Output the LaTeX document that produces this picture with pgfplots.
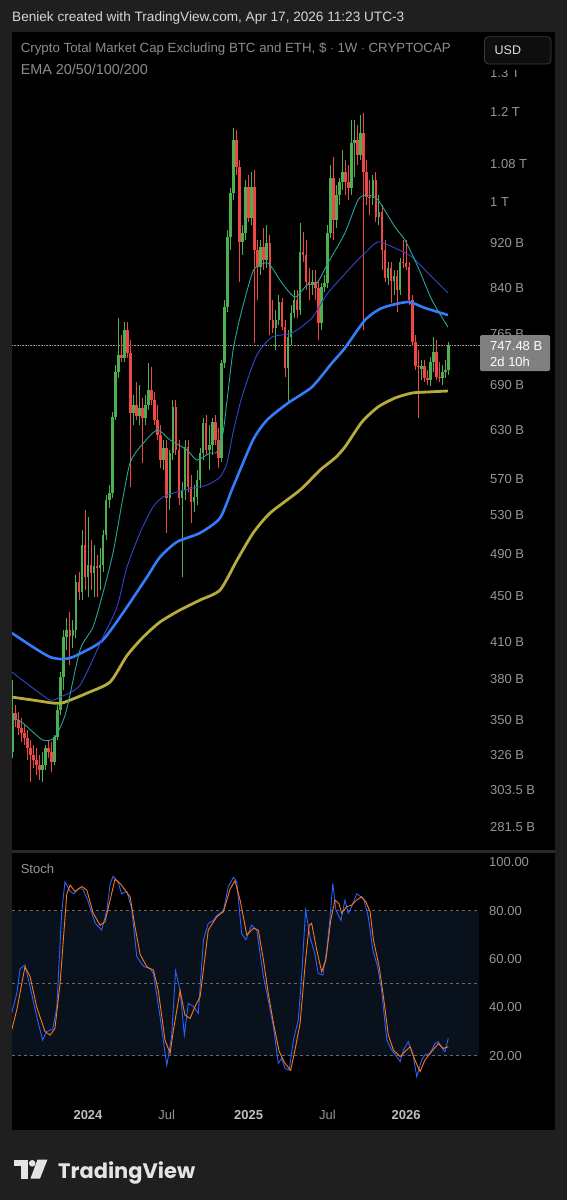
\documentclass[border=0pt]{standalone}
\usepackage{fontspec}
\setmainfont{Liberation Sans}
\newfontfamily\tvfont{Poppins}
\usepackage{graphicx}
\usepackage{pgfplots}
\usepackage{pgfplotstable}
\pgfplotsset{compat=1.18}
\definecolor{outerbg}{RGB}{31,31,31}
\definecolor{cgreen}{RGB}{76,175,80}
\definecolor{cred}{RGB}{239,70,70}
\definecolor{emaA}{RGB}{38,166,154}
\definecolor{emaB}{RGB}{52,70,205}
\definecolor{emaC}{RGB}{52,124,250}
\definecolor{emaD}{RGB}{181,172,58}
\definecolor{kcol}{RGB}{41,98,255}
\definecolor{dcol}{RGB}{255,120,20}
\definecolor{axgray}{RGB}{150,150,150}
\definecolor{leggray}{RGB}{140,140,140}
\definecolor{headgray}{RGB}{214,214,214}
\definecolor{yeargray}{RGB}{190,190,190}
\definecolor{bandc}{RGB}{9,17,29}
\definecolor{dashgray}{RGB}{100,104,112}
\definecolor{sepgray}{RGB}{42,42,42}
\definecolor{btnfill}{RGB}{14,14,14}
\definecolor{btndraw}{RGB}{58,58,58}
\definecolor{btntext}{RGB}{225,225,225}
\definecolor{pricebox}{RGB}{128,128,128}
\definecolor{logocol}{RGB}{228,228,228}
\newcommand\lab{\fontsize{13}{15}\selectfont}

\pgfplotstableread{
i o h l c
-25 327.8 379.3 323.8 354.7
-24 354.7 360.5 344.7 349.7
-23 349.7 355.5 339.2 344.0
-22 344.0 351.1 334.4 340.6
-21 340.6 346.1 332.4 337.1
-20 337.1 342.7 322.5 330.3
-19 330.3 335.8 308.4 325.8
-18 325.8 332.4 317.3 322.5
-17 322.5 330.3 312.8 319.2
-16 319.2 325.8 309.7 316.0
-15 316.0 327.8 308.4 319.2
-14 319.2 332.4 316.0 330.3
-13 330.3 335.8 323.8 327.8
-12 327.8 334.4 314.7 321.2
-11 321.2 339.2 319.2 337.8
-10 337.8 360.5 335.8 356.9
-9 356.9 385.5 353.3 381.6
-8 381.6 419.8 371.7 413.8
-7 413.8 430.1 403.1 419.8
-6 419.8 435.4 391.0 414.7
-5 414.7 428.4 404.7 419.8
-4 419.8 469.3 413.0 462.7
-3 462.7 472.2 446.1 453.5
-2 453.5 514.2 446.1 498.8
-1 498.8 535.5 455.3 467.4
0 467.4 527.9 448.8 478.9
1 478.9 503.9 455.3 471.2
2 471.2 498.8 448.8 477.9
3 477.9 488.7 448.8 475.9
4 475.9 495.7 455.3 478.9
5 478.9 514.2 472.2 509.0
6 509.0 552.0 503.9 546.5
7 546.5 563.3 537.6 554.3
8 554.3 653.2 548.6 646.6
9 646.6 718.5 642.7 708.4
10 708.4 790.4 699.7 733.3
11 733.3 763.6 723.0 728.8
12 728.8 784.0 723.0 771.4
13 771.4 784.0 728.8 736.3
14 736.3 755.9 561.0 651.9
15 651.9 676.2 636.2 662.5
16 662.5 694.2 642.7 647.9
17 647.9 689.9 636.2 658.4
18 658.4 672.0 589.0 645.2
19 645.2 676.2 636.2 662.5
20 662.5 721.5 655.9 683.1
21 683.1 715.6 662.5 669.3
22 669.3 680.3 636.2 642.7
23 642.7 662.5 617.2 623.4
24 623.4 636.2 583.0 592.6
25 592.6 617.2 580.7 607.2
26 607.2 617.2 511.1 548.6
27 548.6 604.8 535.5 601.1
28 601.1 669.3 592.6 659.8
29 659.8 669.3 598.7 604.8
30 604.8 617.2 541.0 548.6
31 548.6 566.8 467.4 557.7
32 557.7 617.2 546.5 608.4
33 608.4 617.2 555.4 561.0
34 561.0 574.8 521.5 544.3
35 544.3 563.3 533.3 549.8
36 549.8 580.7 541.0 569.1
37 569.1 607.2 559.9 601.1
38 601.1 645.2 592.6 638.8
39 638.8 649.2 598.7 604.8
40 604.8 636.2 580.7 610.9
41 610.9 645.2 598.7 640.1
42 640.1 649.2 610.9 617.2
43 617.2 632.3 583.0 595.0
44 595.0 725.9 590.2 721.5
45 721.5 819.8 714.1 808.2
46 808.2 944.9 800.1 931.5
47 931.5 1028.8 907.4 1018.6
48 1018.6 1161.9 1004.2 1134.2
49 1134.2 1157.4 1056.4 1073.6
50 1073.6 1089.1 850.3 922.1
51 922.1 954.5 898.2 939.1
52 939.1 1045.8 925.9 1030.9
53 1030.9 1056.4 960.4 968.0
54 968.0 1062.9 954.5 1030.9
55 1030.9 1067.2 751.3 907.4
56 907.4 925.9 819.8 876.5
57 876.5 925.9 862.5 912.7
58 912.7 948.6 871.3 889.1
59 889.1 954.5 874.7 920.3
60 920.3 935.3 763.6 787.2
61 787.2 819.8 766.7 774.4
62 774.4 803.4 740.8 787.2
63 787.2 828.1 779.2 816.5
64 816.5 823.0 771.4 776.0
65 776.0 787.2 701.2 714.1
66 714.1 771.4 665.2 760.4
67 760.4 811.5 748.2 798.5
68 798.5 836.6 790.4 819.8
69 819.8 836.6 790.4 803.4
70 803.4 958.4 795.2 903.7
71 903.7 941.1 885.5 898.2
72 898.2 925.9 836.6 850.3
73 850.3 874.7 819.8 845.1
74 845.1 871.3 828.1 850.3
75 850.3 871.3 819.8 839.9
76 839.9 853.8 755.9 782.4
77 782.4 848.6 771.4 841.7
78 841.7 862.5 833.2 848.6
79 848.6 954.5 839.9 939.1
80 939.1 1078.0 929.6 1049.9
81 1049.9 1095.6 925.9 964.3
82 964.3 1035.2 948.6 1014.4
83 1014.4 1049.9 994.0 1041.6
84 1041.6 1111.4 1024.8 1062.9
85 1062.9 1089.1 1014.4 1041.6
86 1041.6 1078.0 1004.2 1028.8
87 1028.8 1181.1 1014.4 1127.3
88 1127.3 1181.1 1052.0 1134.2
89 1134.2 1169.1 1078.0 1100.1
90 1100.1 1193.1 1089.1 1150.4
91 1150.4 1198.0 771.4 1062.9
92 1062.9 1089.1 994.0 1010.2
93 1010.2 1045.8 974.0 1008.2
94 1008.2 1056.4 994.0 1045.8
95 1045.8 1062.9 960.4 970.0
96 970.0 1014.4 954.5 980.0
97 980.0 994.0 871.3 907.4
98 907.4 925.9 850.3 857.1
99 857.1 885.5 845.1 874.7
100 874.7 885.5 814.8 852.1
101 852.1 871.3 828.1 860.7
102 860.7 871.3 800.1 836.6
103 836.6 892.7 828.1 885.5
104 885.5 925.9 874.7 883.7
105 883.7 925.9 871.3 876.5
106 876.5 885.5 811.5 819.8
107 819.8 828.1 748.2 752.8
108 752.8 763.6 711.3 717.1
109 717.1 740.8 645.2 715.6
110 713.0 725.9 697.0 717.1
111 717.1 725.9 694.2 699.7
112 699.7 711.3 689.9 697.0
113 697.0 730.3 688.5 723.0
114 723.0 760.4 708.4 737.8
115 737.8 755.9 697.0 701.2
116 701.2 723.0 694.2 699.7
117 699.7 718.5 689.9 708.4
118 708.4 725.9 699.7 711.3
119 711.3 752.8 704.1 747.48
}\candles
\pgfplotstablegetrowsof{\candles}
\pgfmathtruncatemacro\lastrow{\pgfplotsretval-1}

\begin{document}
\begin{tikzpicture}
\useasboundingbox (0,0) rectangle (567pt,-1200pt);
\fill[outerbg] (0,0) rectangle (567pt,-1200pt);
\fill[black] (12pt,-32.3pt) rectangle (555pt,-1130pt);

% ---------------- main price panel
\begin{axis}[
  at={(12pt,-850pt)}, anchor=south west,
  width=468pt, height=815pt, scale only axis,
  xmin=-25.08, xmax=129.37,
  ymode=log, ymin=268.7, ymax=1403.4,
  axis line style={draw=none},
  xtick=\empty,
  ytick={281.5,303.5,326,350,380,410,450,490,530,570,630,690,765,840,920,1000,1080,1200,1300},
  yticklabels={281.5 B,303.5 B,326 B,350 B,380 B,410 B,450 B,490 B,530 B,570 B,630 B,690 B,765 B,840 B,920 B,1 T,1.08 T,1.2 T,1.3 T},
  yticklabel pos=right,
  major tick length=0pt,
  yticklabel style={anchor=west, inner sep=0pt, xshift=10pt, font=\lab, text=axgray},
]
\addplot[axgray, densely dotted, line width=0.6pt] coordinates {(-25.08,747.48) (129.37,747.48)};

\pgfplotsforeachungrouped \r in {0,...,\lastrow}{%
  \pgfplotstablegetelem{\r}{i}\of\candles \let\cI\pgfplotsretval
  \pgfplotstablegetelem{\r}{o}\of\candles \let\cO\pgfplotsretval
  \pgfplotstablegetelem{\r}{h}\of\candles \let\cH\pgfplotsretval
  \pgfplotstablegetelem{\r}{l}\of\candles \let\cL\pgfplotsretval
  \pgfplotstablegetelem{\r}{c}\of\candles \let\cC\pgfplotsretval
  \ifdim\cC pt<\cO pt \def\ccol{cred}\else\def\ccol{cgreen}\fi
  \edef\temp{\noexpand\addplot[\ccol, line width=0.8pt, forget plot] coordinates {(\cI,\cL) (\cI,\cH)};
    \noexpand\addplot[\ccol, line width=2.6pt, forget plot] coordinates {(\cI,\cO) (\cI,\cC)};}%
  \temp
}

% EMA 200
\addplot[emaD, line width=2.8pt, smooth, tension=0.4] coordinates {
(-25.1,366.4) (-18.2,364.2) (-11.6,362.0) (-8.6,362.0) (-5.0,365.0) (-0.3,369.4) (7.3,377.8) (12.87,398.6) (18.2,413.8) (23.8,426.7) (30.4,437.2) (37.0,446.1) (43.6,455.3) (49.2,483.8) (54.5,511.1) (60.1,532.2) (70.0,557.7) (76.6,580.7) (81.5,595.0) (84.8,608.5) (90.4,640.1) (95.7,659.9) (101.3,672.0) (106.9,678.9) (112.2,680.3) (118.8,681.7)};
% EMA 100
\addplot[emaC, line width=2.6pt, smooth, tension=0.4] coordinates {
(-25.1,417.2) (-18.2,405.6) (-12.5,397.4) (-8.6,395.8) (-5.0,397.4) (1.65,405.6) (4.95,411.4) (8.25,422.3) (12.87,439.8) (19.47,467.4) (23.76,486.7) (29.37,501.9) (36.96,511.1) (43.56,526.8) (47.85,561.0) (54.46,617.2) (59.08,642.7) (66.0,665.2) (73.9,687.2) (80.5,721.5) (84.8,743.8) (91.4,787.2) (97.0,806.6) (105.6,816.5) (111.2,806.6) (118.8,795.2)};
% EMA 50
\addplot[emaB, line width=0.9pt, smooth, tension=0.4] coordinates {
(-25.1,385.5) (-18.2,373.2) (-12.5,364.2) (-9.2,366.4) (-2.6,375.5) (4.95,413.8) (9.57,439.8) (12.87,476.9) (17.16,511.1) (21.45,538.7) (24.75,549.8) (29.37,555.4) (34.65,559.9) (39.27,563.3) (43.56,572.4) (45.87,589.0) (47.85,626.0) (50.5,669.3) (53.5,708.4) (56.1,736.3) (60.7,760.6) (67.3,766.7) (73.9,790.5) (79.2,831.6) (88.1,883.7) (91.4,901.8) (95.7,922.3) (101.3,911.0) (106.9,894.6) (112.2,866.0) (118.8,831.6)};
% EMA 20
\addplot[emaA, line width=0.9pt, smooth, tension=0.4] coordinates {
(-25.1,351.8) (-21.5,347.6) (-14.9,335.8) (-10.9,337.8) (-7.26,355.4) (-2.64,403.1) (1.65,422.3) (4.95,452.5) (8.25,490.7) (11.22,543.2) (13.86,589.0) (17.16,608.4) (22.77,629.8) (27.06,617.2) (32.67,604.8) (35.97,592.6) (40.26,601.1) (42.57,602.3) (44.55,626.0) (46.2,680.0) (47.9,740.8) (50.2,792.0) (53.5,853.8) (55.1,874.7) (59.4,883.7) (64.0,848.6) (68.3,824.7) (72.3,845.1) (75.6,848.6) (79.2,883.7) (84.8,939.1) (89.1,1004.2) (92.1,1014.4) (95.7,1004.2) (101.3,950.6) (104.6,925.9) (108.9,876.5) (113.5,819.8) (118.8,776.0)};
\end{axis}

% ---------------- stochastic panel
\begin{axis}[
  at={(12pt,-1100pt)}, anchor=south west,
  width=468pt, height=248pt, scale only axis,
  xmin=-25.08, xmax=129.37,
  ymin=1.65, ymax=104.3,
  axis line style={draw=none},
  xtick={0,26,53,79,105},
  xticklabels={{\bfseries\color{yeargray}2024},Jul,{\bfseries\color{yeargray}2025},Jul,{\bfseries\color{yeargray}2026}},
  xticklabel style={anchor=center, yshift=-15pt, inner sep=0pt, font=\lab, text=axgray},
  ytick={20,40,60,80,100},
  yticklabels={20.00,40.00,60.00,80.00,100.00},
  yticklabel pos=right,
  major tick length=0pt,
  yticklabel style={anchor=west, inner sep=0pt, xshift=9pt, font=\lab, text=axgray},
]
\fill[bandc] (axis cs:-25.08,20) rectangle (axis cs:129.1,80);
\draw[dashgray, line width=0.6pt, dash pattern=on 3pt off 3pt] (axis cs:-25.08,80) -- (axis cs:129.1,80);
\draw[dashgray, line width=0.6pt, dash pattern=on 3pt off 3pt] (axis cs:-25.08,50) -- (axis cs:129.1,50);
\draw[dashgray, line width=0.6pt, dash pattern=on 3pt off 3pt] (axis cs:-25.08,20) -- (axis cs:129.1,20);
\addplot[kcol, line width=0.9pt] coordinates {
(-25.2,37.5) (-23.5,45.8) (-22.4,56) (-20.8,57.5) (-19.1,48.5) (-16.9,36) (-15.0,26.5) (-13.6,30) (-11.6,31) (-10.3,40) (-8.7,79) (-7.6,92) (-5.9,88) (-4.6,87) (-3.3,89) (-1.7,89) (0,84) (2.3,75) (4.5,72) (6.2,80) (7.3,91) (8.3,94.3) (9.9,92) (11.1,87) (12.8,88) (14.4,81) (16.1,61) (18.3,57) (20.5,56) (21.6,54) (23.8,36) (26.0,16) (27.6,28) (28.9,55) (30.4,47) (31.8,28.5) (33.1,41.7) (34.8,40.3) (36.4,37.5) (38.1,68) (39.7,74.8) (41.4,76) (42.5,78) (44.7,80) (46.3,90) (48.0,93.8) (49.1,92) (50.7,70.6) (52.1,68) (54.0,74) (55.7,72) (57.9,52.7) (59.5,43) (61.2,32) (62.8,16.8) (63.9,18.9) (65.0,14.8) (66.4,14) (67.8,26.5) (69.4,34.8) (70.5,52.7) (71.8,80.3) (73.3,69) (74.9,62) (76.0,54) (77.5,53.4) (78.8,63.7) (79.9,77.5) (80.8,91.3) (81.8,80.3) (83.5,76) (84.8,84.4) (85.9,79) (87.0,81.7) (88.7,87) (90.0,85.8) (91.1,84.4) (92.5,77.5) (94.0,63.7) (95.6,56.8) (96.9,47) (98.6,26.5) (100.2,22.3) (101.9,19.6) (103.0,17.5) (104.1,22.3) (105.7,25.8) (107.4,19.6) (108.5,11.3) (110.1,18.2) (111.2,20.3) (112.9,21) (114.5,25) (115.6,25.8) (117.3,22.3) (117.8,21.7) (118.9,27.2)};
\addplot[dcol, line width=0.9pt] coordinates {
(-25.2,30.6) (-23.5,38.9) (-20.8,56.8) (-19.1,52.7) (-16.9,40) (-14.2,30) (-12.5,28.5) (-10.9,31.3) (-9.2,50) (-7.0,87) (-5.9,90.6) (-4.3,88) (-2.1,90) (-0.4,88.6) (1.7,79) (4.0,74) (5.6,75.4) (7.3,84.4) (8.9,93) (10.6,91.3) (12.2,88.6) (13.9,85.8) (15.5,73.4) (17.2,62) (19.4,56.8) (21.6,55.4) (23.2,47) (25.4,26.5) (27.1,21) (28.2,30.6) (30.4,47) (32.0,36.8) (33.7,35.4) (35.3,40.3) (37.0,44.4) (39.7,72) (42.5,77.5) (44.7,79.6) (46.9,89) (48.5,92.4) (50.2,84.4) (52.4,70) (54.6,72.7) (56.2,72) (57.9,59.6) (59.5,45.8) (61.2,33.4) (63.1,21.7) (65.0,16.8) (66.9,14) (68.3,22.3) (70.0,33.4) (71.6,56.8) (73.0,74) (73.8,74.8) (75.5,63.7) (77.1,54.8) (78.5,59.6) (80.1,76) (81.5,84.4) (82.8,83) (83.7,79) (85.4,81.7) (87.0,82.3) (88.7,84.4) (90.3,85.8) (91.7,83.7) (93.1,79.6) (94.2,67.9) (96.1,56.8) (97.5,44.4) (99.1,28.6) (100.8,22.3) (103.0,19.6) (104.6,21.7) (106.3,23.7) (107.9,18.2) (109.6,13.4) (111.2,18.2) (113.4,21.7) (115.6,25) (117.3,23) (118.9,23.7)};
\end{axis}

% separator between panels
\fill[sepgray] (12pt,-850pt) rectangle (555pt,-852.5pt);

% header and legend
\node[anchor=west, inner sep=0pt, text=headgray] at (12pt,-17.7pt)
  {\resizebox{392pt}{!}{Beniek created with TradingView.com, Apr 17, 2026 11:23 UTC-3}};
\node[anchor=west, inner sep=0pt, text=leggray] at (20.6pt,-49.3pt)
  {\resizebox{430pt}{!}{Crypto Total Market Cap Excluding BTC and ETH, \$ $\cdot$ 1W $\cdot$ CRYPTOCAP}};
\node[anchor=west, inner sep=0pt, text=leggray] at (20.6pt,-69pt)
  {\resizebox{127pt}{!}{EMA 20/50/100/200}};
\node[anchor=west, inner sep=0pt, text=axgray, font=\lab] at (20.6pt,-869pt) {Stoch};

% USD button (covers top of the 1.3 T label)
\fill[black] (481pt,-32.3pt) rectangle (555pt,-69.5pt);
\draw[rounded corners=4pt, fill=btnfill, draw=btndraw, line width=0.8pt]
  (484.5pt,-36.7pt) rectangle (551pt,-64pt);
\node[anchor=west, inner sep=0pt, text=btntext, font=\fontsize{12.5}{14}\selectfont] at (494.5pt,-50.3pt) {USD};

% last price label
\fill[pricebox, rounded corners=1.5pt] (480pt,-335pt) rectangle (550pt,-371pt);
\node[anchor=west, inner sep=0pt, text=white, font=\lab] at (490pt,-346.5pt) {747.48 B};
\node[anchor=west, inner sep=0pt, text=white, font=\lab] at (490pt,-362pt) {2d 10h};

% TradingView logo
\fill[logocol] (14pt,-1159.5pt) rectangle (27.5pt,-1166pt);
\fill[logocol] (21pt,-1159.5pt) rectangle (27.5pt,-1178.5pt);
\fill[logocol] (32.2pt,-1163.3pt) circle (3.3pt);
\fill[logocol] (37.5pt,-1159.5pt) -- (47.5pt,-1159.5pt) -- (40pt,-1178.5pt) -- (30.5pt,-1178.5pt) -- cycle;
\node[anchor=base west, inner sep=0pt, text=logocol] at (58pt,-1178.5pt)
  {\resizebox{137pt}{!}{\tvfont\bfseries TradingView}};
\end{tikzpicture}
\end{document}
